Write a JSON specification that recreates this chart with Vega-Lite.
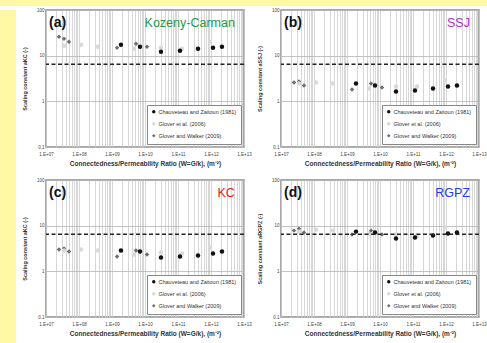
{
"$schema": "https://vega.github.io/schema/vega-lite/v6.json",
"background": "white",
"padding": 0,
"spacing": 0,
"config": {
  "font": "Liberation Sans",
  "view": {"stroke": "#8c8c8c", "strokeWidth": 1.5},
  "axis": {"domain": false, "ticks": false, "labelFont": "Liberation Sans", "labelFontSize": 4.5, "labelColor": "#444", "titleFont": "Liberation Sans", "titleFontWeight": "bold", "titleColor": "#333"},
  "legend": {"labelFont": "Liberation Sans"}
},
"datasets": {"pts": [
{"source":"Glover and Walker (2009)","x":2.48e7,"ak":25.9,"ssj":2.59,"kc":3.01,"rgpz":7.79},
{"source":"Glover and Walker (2009)","x":3.51e7,"ak":23.4,"ssj":2.72,"kc":3.16,"rgpz":8.61},
{"source":"Glover and Walker (2009)","x":4.97e7,"ak":20.2,"ssj":2.23,"kc":2.72,"rgpz":7.05},
{"source":"Glover et al. (2006)","x":3.51e7,"ak":16.5,"ssj":2.46,"kc":2.86,"rgpz":7.41},
{"source":"Glover et al. (2006)","x":1.15e8,"ak":17.4,"ssj":2.59,"kc":3.01,"rgpz":8.19},
{"source":"Glover et al. (2006)","x":3.77e8,"ak":15.7,"ssj":2.46,"kc":2.86,"rgpz":7.79},
{"source":"Glover et al. (2006)","x":4.65e9,"ak":14.2,"ssj":1.92,"kc":2.34,"rgpz":6.7},
{"source":"Glover et al. (2006)","x":3.05e10,"ak":14.9,"ssj":2.12,"kc":2.59,"rgpz":6.37},
{"source":"Glover et al. (2006)","x":1.32e11,"ak":14.2,"ssj":2.12,"kc":2.46,"rgpz":6.06},
{"source":"Glover et al. (2006)","x":9.33e11,"ak":20.2,"ssj":2.86,"kc":3.33,"rgpz":9.06},
{"source":"Glover and Walker (2009)","x":1.42e9,"ak":14.9,"ssj":1.82,"kc":2.12,"rgpz":6.37},
{"source":"Glover and Walker (2009)","x":5.34e9,"ak":18.2,"ssj":2.46,"kc":2.86,"rgpz":7.79},
{"source":"Glover and Walker (2009)","x":1.15e10,"ak":15.7,"ssj":2.01,"kc":2.34,"rgpz":6.37},
{"source":"Chauveteau and Zaitoun (1981)","x":1.87e9,"ak":17.4,"ssj":2.46,"kc":2.86,"rgpz":7.41},
{"source":"Chauveteau and Zaitoun (1981)","x":7.05e9,"ak":15.7,"ssj":2.23,"kc":2.72,"rgpz":7.05},
{"source":"Chauveteau and Zaitoun (1981)","x":3.05e10,"ak":12.2,"ssj":1.65,"kc":2.01,"rgpz":5.21},
{"source":"Chauveteau and Zaitoun (1981)","x":1.15e11,"ak":12.8,"ssj":1.73,"kc":2.12,"rgpz":5.48},
{"source":"Chauveteau and Zaitoun (1981)","x":4.04e11,"ak":14.2,"ssj":1.92,"kc":2.23,"rgpz":6.06},
{"source":"Chauveteau and Zaitoun (1981)","x":1.15e12,"ak":14.9,"ssj":2.12,"kc":2.46,"rgpz":6.7},
{"source":"Chauveteau and Zaitoun (1981)","x":2.15e12,"ak":15.7,"ssj":2.23,"kc":2.72,"rgpz":7.05}
]},
"vconcat": [
 {"width": 487, "height": 6, "data": {"values": []}, "mark": "point", "view": {"fill": "#FFF9A6", "stroke": null}},
 {"spacing": 5, "hconcat": [
  {"width": 16, "height": 337, "data": {"values": []}, "mark": "point", "view": {"fill": "#FFF9A6", "stroke": null}},
  {"columns": 2, "spacing": {"row": 33, "column": 37}, "bounds": "flush", "align": "all",
   "resolve": {"scale": {"color": "independent", "shape": "independent"}, "legend": {"color": "independent", "shape": "independent"}},
   "concat": [
   {"width": 198, "height": 137, "layer": [
     {"data": {"name": "pts"}, "mark": {"type": "point", "filled": true, "size": 20, "opacity": 1},
      "encoding": {
        "x": {"field": "x", "type": "quantitative", "scale": {"type": "log", "domain": [1e7, 1e13]}, "axis": {"title": "Connectedness/Permeability Ratio (W=G/k), (m⁻²)", "titleFontSize": 6.5, "titlePadding": 5, "labelPadding": 4, "labelOverlap": false, "labelFlush": false, "grid": true, "gridColor": "#cdcdcd", "gridWidth": 0.8, "values": [1e7,2e7,3e7,4e7,5e7,6e7,7e7,8e7,9e7,1e8,2e8,3e8,4e8,5e8,6e8,7e8,8e8,9e8,1e9,2e9,3e9,4e9,5e9,6e9,7e9,8e9,9e9,1e10,2e10,3e10,4e10,5e10,6e10,7e10,8e10,9e10,1e11,2e11,3e11,4e11,5e11,6e11,7e11,8e11,9e11,1e12,2e12,3e12,4e12,5e12,6e12,7e12,8e12,9e12,1e13], "labelExpr": "abs(log(datum.value)/LN10 - round(log(datum.value)/LN10)) < 0.001 ? '1.E+' + (round(log(datum.value)/LN10) < 10 ? '0' : '') + round(log(datum.value)/LN10) : ''"}},
        "y": {"field": "ak", "type": "quantitative", "scale": {"type": "log", "domain": [0.1, 100]}, "axis": {"title": "Scaling constant aKC (-)", "titleFontSize": 5.5, "titlePadding": 9, "labelPadding": 2, "values": [0.1, 1, 10, 100], "format": "~g", "grid": true, "gridColor": "#b4b4b4", "gridWidth": 0.8}},
        "color": {"field": "source", "type": "nominal", "scale": {"domain": ["Chauveteau and Zaitoun (1981)", "Glover et al. (2006)", "Glover and Walker (2009)"], "range": ["#111111", "#d9d9d9", "#6e6e6e"]}, "legend": {"title": null, "orient": "bottom-right", "offset": 3, "strokeColor": "#888", "fillColor": "white", "padding": 4, "labelFontSize": 5.5, "labelColor": "#333", "symbolSize": 12, "rowPadding": 5, "labelOffset": 2}},
        "shape": {"field": "source", "type": "nominal", "scale": {"domain": ["Chauveteau and Zaitoun (1981)", "Glover et al. (2006)", "Glover and Walker (2009)"], "range": ["circle", "circle", "diamond"]}}
      }},
     {"data": {"values": [{}]}, "mark": {"type": "rule", "strokeDash": [4, 2.5], "strokeWidth": 1.4, "color": "#222"}, "encoding": {"y": {"datum": 6.5, "type": "quantitative"}}},
     {"data": {"values": [{}]}, "mark": {"type": "text", "align": "left", "baseline": "middle", "fontSize": 14, "fontWeight": "bold", "color": "#111"}, "encoding": {"x": {"datum": 1.23e7, "type": "quantitative"}, "y": {"datum": 52, "type": "quantitative"}, "text": {"value": "(a)"}}},
     {"data": {"values": [{}]}, "mark": {"type": "text", "align": "right", "baseline": "middle", "fontSize": 12.5, "color": "#229a4c"}, "encoding": {"x": {"datum": 5.3e12, "type": "quantitative"}, "y": {"datum": 52, "type": "quantitative"}, "text": {"value": "Kozeny-Carman"}}}
   ]},
   {"width": 198, "height": 137, "layer": [
     {"data": {"name": "pts"}, "mark": {"type": "point", "filled": true, "size": 20, "opacity": 1},
      "encoding": {
        "x": {"field": "x", "type": "quantitative", "scale": {"type": "log", "domain": [1e7, 1e13]}, "axis": {"title": "Connectedness/Permeability Ratio (W=G/k), (m⁻²)", "titleFontSize": 6.5, "titlePadding": 5, "labelPadding": 4, "labelOverlap": false, "labelFlush": false, "grid": true, "gridColor": "#cdcdcd", "gridWidth": 0.8, "values": [1e7,2e7,3e7,4e7,5e7,6e7,7e7,8e7,9e7,1e8,2e8,3e8,4e8,5e8,6e8,7e8,8e8,9e8,1e9,2e9,3e9,4e9,5e9,6e9,7e9,8e9,9e9,1e10,2e10,3e10,4e10,5e10,6e10,7e10,8e10,9e10,1e11,2e11,3e11,4e11,5e11,6e11,7e11,8e11,9e11,1e12,2e12,3e12,4e12,5e12,6e12,7e12,8e12,9e12,1e13], "labelExpr": "abs(log(datum.value)/LN10 - round(log(datum.value)/LN10)) < 0.001 ? '1.E+' + (round(log(datum.value)/LN10) < 10 ? '0' : '') + round(log(datum.value)/LN10) : ''"}},
        "y": {"field": "ssj", "type": "quantitative", "scale": {"type": "log", "domain": [0.1, 100]}, "axis": {"title": "Scaling constant aSSJ (-)", "titleFontSize": 5.5, "titlePadding": 9, "labelPadding": 2, "values": [0.1, 1, 10, 100], "format": "~g", "grid": true, "gridColor": "#b4b4b4", "gridWidth": 0.8}},
        "color": {"field": "source", "type": "nominal", "scale": {"domain": ["Chauveteau and Zaitoun (1981)", "Glover et al. (2006)", "Glover and Walker (2009)"], "range": ["#111111", "#d9d9d9", "#6e6e6e"]}, "legend": {"title": null, "orient": "bottom-right", "offset": 3, "strokeColor": "#888", "fillColor": "white", "padding": 4, "labelFontSize": 5.5, "labelColor": "#333", "symbolSize": 12, "rowPadding": 5, "labelOffset": 2}},
        "shape": {"field": "source", "type": "nominal", "scale": {"domain": ["Chauveteau and Zaitoun (1981)", "Glover et al. (2006)", "Glover and Walker (2009)"], "range": ["circle", "circle", "diamond"]}}
      }},
     {"data": {"values": [{}]}, "mark": {"type": "rule", "strokeDash": [4, 2.5], "strokeWidth": 1.4, "color": "#222"}, "encoding": {"y": {"datum": 6.5, "type": "quantitative"}}},
     {"data": {"values": [{}]}, "mark": {"type": "text", "align": "left", "baseline": "middle", "fontSize": 14, "fontWeight": "bold", "color": "#111"}, "encoding": {"x": {"datum": 1.23e7, "type": "quantitative"}, "y": {"datum": 52, "type": "quantitative"}, "text": {"value": "(b)"}}},
     {"data": {"values": [{}]}, "mark": {"type": "text", "align": "right", "baseline": "middle", "fontSize": 12.5, "color": "#b030c8"}, "encoding": {"x": {"datum": 5.3e12, "type": "quantitative"}, "y": {"datum": 52, "type": "quantitative"}, "text": {"value": "SSJ"}}}
   ]},
   {"width": 198, "height": 137, "layer": [
     {"data": {"name": "pts"}, "mark": {"type": "point", "filled": true, "size": 20, "opacity": 1},
      "encoding": {
        "x": {"field": "x", "type": "quantitative", "scale": {"type": "log", "domain": [1e7, 1e13]}, "axis": {"title": "Connectedness/Permeability Ratio (W=G/k), (m⁻²)", "titleFontSize": 6.5, "titlePadding": 5, "labelPadding": 4, "labelOverlap": false, "labelFlush": false, "grid": true, "gridColor": "#cdcdcd", "gridWidth": 0.8, "values": [1e7,2e7,3e7,4e7,5e7,6e7,7e7,8e7,9e7,1e8,2e8,3e8,4e8,5e8,6e8,7e8,8e8,9e8,1e9,2e9,3e9,4e9,5e9,6e9,7e9,8e9,9e9,1e10,2e10,3e10,4e10,5e10,6e10,7e10,8e10,9e10,1e11,2e11,3e11,4e11,5e11,6e11,7e11,8e11,9e11,1e12,2e12,3e12,4e12,5e12,6e12,7e12,8e12,9e12,1e13], "labelExpr": "abs(log(datum.value)/LN10 - round(log(datum.value)/LN10)) < 0.001 ? '1.E+' + (round(log(datum.value)/LN10) < 10 ? '0' : '') + round(log(datum.value)/LN10) : ''"}},
        "y": {"field": "kc", "type": "quantitative", "scale": {"type": "log", "domain": [0.1, 100]}, "axis": {"title": "Scaling constant aKC (-)", "titleFontSize": 5.5, "titlePadding": 9, "labelPadding": 2, "values": [0.1, 1, 10, 100], "format": "~g", "grid": true, "gridColor": "#b4b4b4", "gridWidth": 0.8}},
        "color": {"field": "source", "type": "nominal", "scale": {"domain": ["Chauveteau and Zaitoun (1981)", "Glover et al. (2006)", "Glover and Walker (2009)"], "range": ["#111111", "#d9d9d9", "#6e6e6e"]}, "legend": {"title": null, "orient": "bottom-right", "offset": 3, "strokeColor": "#888", "fillColor": "white", "padding": 4, "labelFontSize": 5.5, "labelColor": "#333", "symbolSize": 12, "rowPadding": 5, "labelOffset": 2}},
        "shape": {"field": "source", "type": "nominal", "scale": {"domain": ["Chauveteau and Zaitoun (1981)", "Glover et al. (2006)", "Glover and Walker (2009)"], "range": ["circle", "circle", "diamond"]}}
      }},
     {"data": {"values": [{}]}, "mark": {"type": "rule", "strokeDash": [4, 2.5], "strokeWidth": 1.4, "color": "#222"}, "encoding": {"y": {"datum": 6.5, "type": "quantitative"}}},
     {"data": {"values": [{}]}, "mark": {"type": "text", "align": "left", "baseline": "middle", "fontSize": 14, "fontWeight": "bold", "color": "#111"}, "encoding": {"x": {"datum": 1.23e7, "type": "quantitative"}, "y": {"datum": 52, "type": "quantitative"}, "text": {"value": "(c)"}}},
     {"data": {"values": [{}]}, "mark": {"type": "text", "align": "right", "baseline": "middle", "fontSize": 12.5, "color": "#e3231c"}, "encoding": {"x": {"datum": 5.3e12, "type": "quantitative"}, "y": {"datum": 52, "type": "quantitative"}, "text": {"value": "KC"}}}
   ]},
   {"width": 198, "height": 137, "layer": [
     {"data": {"name": "pts"}, "mark": {"type": "point", "filled": true, "size": 20, "opacity": 1},
      "encoding": {
        "x": {"field": "x", "type": "quantitative", "scale": {"type": "log", "domain": [1e7, 1e13]}, "axis": {"title": "Connectedness/Permeability Ratio (W=G/k), (m⁻²)", "titleFontSize": 6.5, "titlePadding": 5, "labelPadding": 4, "labelOverlap": false, "labelFlush": false, "grid": true, "gridColor": "#cdcdcd", "gridWidth": 0.8, "values": [1e7,2e7,3e7,4e7,5e7,6e7,7e7,8e7,9e7,1e8,2e8,3e8,4e8,5e8,6e8,7e8,8e8,9e8,1e9,2e9,3e9,4e9,5e9,6e9,7e9,8e9,9e9,1e10,2e10,3e10,4e10,5e10,6e10,7e10,8e10,9e10,1e11,2e11,3e11,4e11,5e11,6e11,7e11,8e11,9e11,1e12,2e12,3e12,4e12,5e12,6e12,7e12,8e12,9e12,1e13], "labelExpr": "abs(log(datum.value)/LN10 - round(log(datum.value)/LN10)) < 0.001 ? '1.E+' + (round(log(datum.value)/LN10) < 10 ? '0' : '') + round(log(datum.value)/LN10) : ''"}},
        "y": {"field": "rgpz", "type": "quantitative", "scale": {"type": "log", "domain": [0.1, 100]}, "axis": {"title": "Scaling constant aRGPZ (-)", "titleFontSize": 5.5, "titlePadding": 9, "labelPadding": 2, "values": [0.1, 1, 10, 100], "format": "~g", "grid": true, "gridColor": "#b4b4b4", "gridWidth": 0.8}},
        "color": {"field": "source", "type": "nominal", "scale": {"domain": ["Chauveteau and Zaitoun (1981)", "Glover et al. (2006)", "Glover and Walker (2009)"], "range": ["#111111", "#d9d9d9", "#6e6e6e"]}, "legend": {"title": null, "orient": "bottom-right", "offset": 3, "strokeColor": "#888", "fillColor": "white", "padding": 4, "labelFontSize": 5.5, "labelColor": "#333", "symbolSize": 12, "rowPadding": 5, "labelOffset": 2}},
        "shape": {"field": "source", "type": "nominal", "scale": {"domain": ["Chauveteau and Zaitoun (1981)", "Glover et al. (2006)", "Glover and Walker (2009)"], "range": ["circle", "circle", "diamond"]}}
      }},
     {"data": {"values": [{}]}, "mark": {"type": "rule", "strokeDash": [4, 2.5], "strokeWidth": 1.4, "color": "#222"}, "encoding": {"y": {"datum": 6.5, "type": "quantitative"}}},
     {"data": {"values": [{}]}, "mark": {"type": "text", "align": "left", "baseline": "middle", "fontSize": 14, "fontWeight": "bold", "color": "#111"}, "encoding": {"x": {"datum": 1.23e7, "type": "quantitative"}, "y": {"datum": 52, "type": "quantitative"}, "text": {"value": "(d)"}}},
     {"data": {"values": [{}]}, "mark": {"type": "text", "align": "right", "baseline": "middle", "fontSize": 12.5, "color": "#1f3fe0"}, "encoding": {"x": {"datum": 5.3e12, "type": "quantitative"}, "y": {"datum": 52, "type": "quantitative"}, "text": {"value": "RGPZ"}}}
   ]}
  ]}
 ]}
]
}
